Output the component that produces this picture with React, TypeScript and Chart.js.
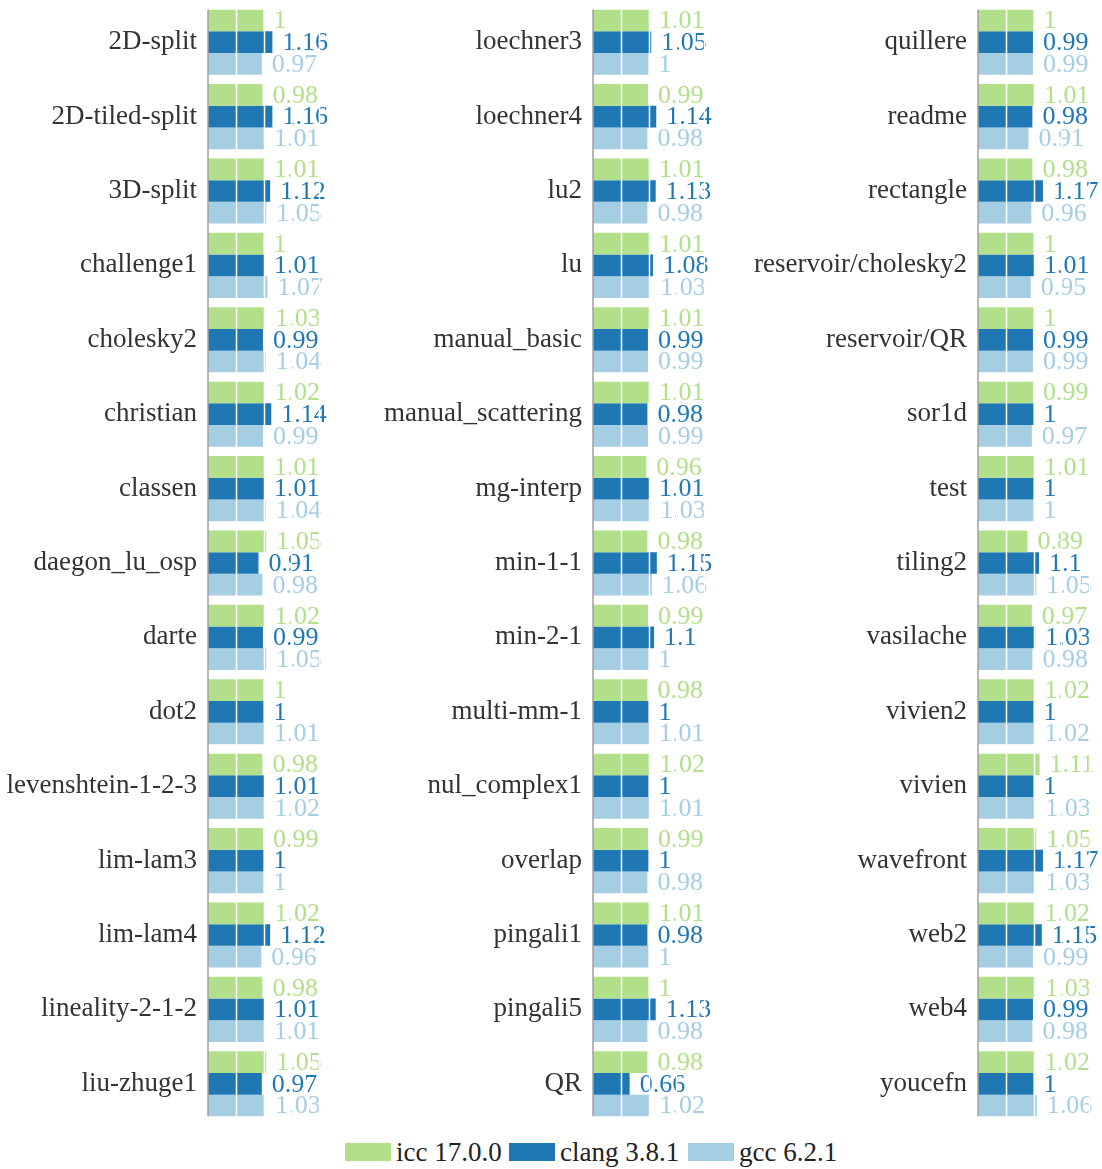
import React, { useEffect, useRef } from "react";
import { Chart, registerables } from "chart.js";

Chart.register(...registerables);

const SERIES = ["icc 17.0.0", "clang 3.8.1", "gcc 6.2.1"];
const COLORS = ["#b2df8a", "#1f78b4", "#a6cee3"];
const X_GRID = [0.5, 1, 1.5, 2];

const cats1 = ["2D-split", "2D-tiled-split", "3D-split", "challenge1", "cholesky2", "christian", "classen", "daegon_lu_osp", "darte", "dot2", "levenshtein-1-2-3", "lim-lam3", "lim-lam4", "lineality-2-1-2", "liu-zhuge1"];
const icc1 = [1, 0.98, 1.01, 1, 1.03, 1.02, 1.01, 1.05, 1.02, 1, 0.98, 0.99, 1.02, 0.98, 1.05];
const clang1 = [1.16, 1.16, 1.12, 1.01, 0.99, 1.14, 1.01, 0.91, 0.99, 1, 1.01, 1, 1.12, 1.01, 0.97];
const gcc1 = [0.97, 1.01, 1.05, 1.07, 1.04, 0.99, 1.04, 0.98, 1.05, 1.01, 1.02, 1, 0.96, 1.01, 1.03];

const cats2 = ["loechner3", "loechner4", "lu2", "lu", "manual_basic", "manual_scattering", "mg-interp", "min-1-1", "min-2-1", "multi-mm-1", "nul_complex1", "overlap", "pingali1", "pingali5", "QR"];
const icc2 = [1.01, 0.99, 1.01, 1.01, 1.01, 1.01, 0.96, 0.98, 0.99, 0.98, 1.02, 0.99, 1.01, 1, 0.98];
const clang2 = [1.05, 1.14, 1.13, 1.08, 0.99, 0.98, 1.01, 1.15, 1.1, 1, 1, 1, 0.98, 1.13, 0.66];
const gcc2 = [1, 0.98, 0.98, 1.03, 0.99, 0.99, 1.03, 1.06, 1, 1.01, 1.01, 0.98, 1, 0.98, 1.02];

const cats3 = ["quillere", "readme", "rectangle", "reservoir/cholesky2", "reservoir/QR", "sor1d", "test", "tiling2", "vasilache", "vivien2", "vivien", "wavefront", "web2", "web4", "youcefn"];
const icc3 = [1, 1.01, 0.98, 1, 1, 0.99, 1.01, 0.89, 0.97, 1.02, 1.11, 1.05, 1.02, 1.03, 1.02];
const clang3 = [0.99, 0.98, 1.17, 1.01, 0.99, 1, 1, 1.1, 1.03, 1, 1, 1.17, 1.15, 0.99, 1];
const gcc3 = [0.99, 0.91, 0.96, 0.95, 0.99, 0.97, 1, 1.05, 0.98, 1.02, 1.03, 1.03, 0.99, 0.98, 1.06];

const FONT = '"Liberation Serif", "DejaVu Serif", serif';
const CAT_FS = 27;
const VAL_FS = 26;
const LEG_FS = 27;
const CAT_PCT = 0.875;
const Y_W = 240;
const CANVAS_W = 364;

const overlayPlugin = {
  id: "overlay",
  afterDatasetsDraw(chart: any) {
    const ctx = chart.ctx;
    const xs = chart.scales.x;
    const ys = chart.scales.y;
    const area = chart.chartArea;
    ctx.save();
    ctx.font = `${VAL_FS}px ${FONT}`;
    ctx.textBaseline = "middle";
    ctx.textAlign = "left";
    chart.data.datasets.forEach((ds: any, di: number) => {
      const meta = chart.getDatasetMeta(di);
      meta.data.forEach((bar: any, i: number) => {
        ctx.fillStyle = COLORS[di];
        ctx.fillText(String(ds.data[i]), bar.x + 10, bar.y + 1);
      });
    });
    ctx.strokeStyle = "#ffffff";
    ctx.lineWidth = 1.5;
    X_GRID.forEach((t) => {
      const px = Math.round(xs.getPixelForValue(t)) + 0.5;
      ctx.beginPath();
      ctx.moveTo(px, area.top);
      ctx.lineTo(px, area.bottom);
      ctx.stroke();
    });
    const n = chart.data.labels.length;
    const pitch = (area.bottom - area.top) / n;
    const top = ys.getPixelForValue(0) - (pitch * CAT_PCT) / 2;
    const bottom = ys.getPixelForValue(n - 1) + (pitch * CAT_PCT) / 2;
    const x0 = xs.getPixelForValue(0);
    ctx.strokeStyle = "#a0a0a0";
    ctx.lineWidth = 1.5;
    ctx.beginPath();
    ctx.moveTo(x0, top);
    ctx.lineTo(x0, bottom);
    ctx.stroke();
    ctx.restore();
  },
};

function Panel({ cats, a, b, c, left }: { cats: string[]; a: number[]; b: number[]; c: number[]; left: number }) {
  const ref = useRef<HTMLCanvasElement | null>(null);
  useEffect(() => {
    if (!ref.current) return;
    const chart = new Chart(ref.current, {
      type: "bar",
      data: {
        labels: cats,
        datasets: [a, b, c].map((d, i) => ({
          label: SERIES[i],
          data: d,
          backgroundColor: COLORS[i],
          borderWidth: 0,
          categoryPercentage: CAT_PCT,
          barPercentage: 1,
        })),
      },
      options: {
        indexAxis: "y",
        responsive: false,
        animation: false,
        devicePixelRatio: 1,
        layout: { padding: { top: 5, bottom: 0, left: 0, right: 13 } },
        plugins: { legend: { display: false }, tooltip: { enabled: false } },
        scales: {
          x: { display: false, min: 0, max: 2 },
          y: {
            grid: { display: false, drawTicks: false },
            border: { display: false },
            ticks: { color: "#333333", font: { family: FONT, size: CAT_FS }, padding: 11, autoSkip: false },
            afterFit: (s: any) => {
              s.width = Y_W;
              s.paddingTop = 0;
              s.paddingBottom = 0;
            },
          },
        },
      } as any,
      plugins: [overlayPlugin],
    });
    return () => chart.destroy();
  }, []);
  return (
    <div style={{ position: "absolute", left, top: 0, width: CANVAS_W, height: 1121 }}>
      <canvas ref={ref} width={CANVAS_W} height={1121} style={{ width: CANVAS_W, height: 1121, display: "block" }} />
    </div>
  );
}

const PANEL_X = [208 - Y_W, 593 - Y_W, 978 - Y_W];
const LEGEND_X = [345, 509, 688];

export default function App() {
  return (
    <div>
      <Panel cats={cats1} a={icc1} b={clang1} c={gcc1} left={PANEL_X[0]} />
      <Panel cats={cats2} a={icc2} b={clang2} c={gcc2} left={PANEL_X[1]} />
      <Panel cats={cats3} a={icc3} b={clang3} c={gcc3} left={PANEL_X[2]} />
      {SERIES.map((s, i) => (
        <div
          key={s}
          style={{
            position: "absolute",
            left: LEGEND_X[i],
            top: 1143,
            height: 18,
            display: "flex",
            alignItems: "center",
            whiteSpace: "nowrap",
          }}
        >
          <div style={{ width: 46, height: 18, background: COLORS[i] }} />
          <span style={{ marginLeft: 5, fontFamily: FONT, fontSize: LEG_FS, lineHeight: "18px", color: "#222" }}>{s}</span>
        </div>
      ))}
    </div>
  );
}
